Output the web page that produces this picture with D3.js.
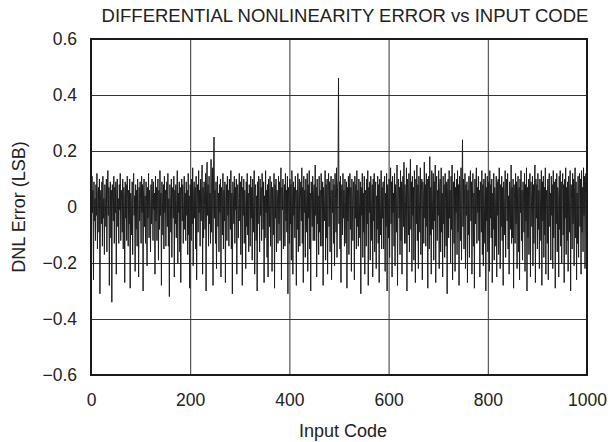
<!DOCTYPE html>
<html>
<head>
<meta charset="utf-8">
<script src="https://cdn.jsdelivr.net/npm/d3@7"></script>
<style>
  body { margin: 0; background: #fff; }
  text { font-family: "Liberation Sans", Arial, Helvetica, sans-serif; fill: #222; }
</style>
</head>
<body>
<div id="chart"></div>
<script>
// DNL error per input code (LSB), codes 0..1000
const dnl = [
  .04,-.08,.11,-.02,.06,-.26,.09,-.05,.03,-.12,
  .08,-.03,.12,-.15,.05,.07,-.09,.10,-.31,.02,
  .06,-.06,.09,-.14,.11,-.04,.03,-.17,.08,.01,
  -.07,.10,-.16,.05,.13,-.03,.07,-.28,.04,.09,
  -.11,.06,-.34,.08,.02,-.05,.11,-.13,.07,-.02,
  .09,-.24,.05,.10,-.07,.03,-.13,.08,-.01,.12,
  -.12,.06,.02,-.09,.10,-.15,.07,.04,-.27,.09,
  -.04,.08,-.12,.11,.03,-.14,.06,-.06,.10,-.29,
  .05,.02,-.10,.09,-.17,.07,.12,-.03,.04,-.23,
  .08,-.08,.06,-.14,.10,.01,-.25,.07,-.05,.09,
  .03,-.13,.11,-.02,.08,-.30,.05,.10,-.07,.04,
  -.13,.09,.02,-.21,.07,-.04,.12,-.11,.06,.01,
  -.16,.08,-.06,.10,.03,-.12,.09,-.01,.05,-.24,
  .11,-.05,.07,-.12,.04,.10,-.19,.06,-.08,.13,
  -.03,.05,-.28,.09,.02,-.10,.08,-.15,.11,-.02,
  .06,-.14,.04,.09,-.07,.12,-.14,.03,-.32,.08,
  .01,-.09,.10,-.18,.05,.07,-.04,.11,-.25,.06,
  -.06,.08,-.11,.03,.13,-.20,.05,-.02,.09,-.16,
  .07,-.27,.04,.10,-.05,.08,-.13,.02,.11,-.08,
  .05,-.12,.09,-.03,.06,-.17,.12,-.10,.04,-.29,
  .08,.02,-.12,.10,-.06,.14,-.21,.05,.09,-.04,
  .07,-.15,.11,-.26,.03,.08,-.09,.13,-.02,.06,
  -.14,.10,-.05,.04,.15,-.24,.07,-.11,.09,.01,
  -.08,.12,-.30,.06,.16,-.03,.08,-.14,.11,-.06,
  .05,-.13,.17,-.09,.07,.14,-.28,.10,.25,-.04,
  .06,-.13,.09,-.22,.03,.11,-.07,.05,-.16,.08,
  -.02,.10,-.25,.07,.04,-.10,.12,-.15,.06,-.05,
  .09,-.27,.03,.08,-.12,.11,-.03,.06,-.14,.10,
  .02,-.08,.13,-.15,.05,-.31,.09,.04,-.06,.11,
  -.13,.07,-.01,.10,-.24,.06,.08,-.11,.03,.12,
  -.05,.09,-.17,.04,.11,-.28,.07,-.03,.10,-.13,
  .06,.01,-.22,.09,-.07,.12,-.10,.05,-.16,.08,
  .03,-.14,.11,-.04,.07,-.19,.10,.02,-.09,.13,
  -.24,.06,.08,-.12,.04,-.30,.09,-.06,.11,.01,
  -.16,.10,-.03,.07,-.12,.12,.05,-.08,.09,-.27,
  .04,-.11,.13,-.02,.06,-.18,.08,-.25,.10,.03,
  -.07,.11,-.14,.05,.09,-.23,.07,.02,-.10,.12,
  -.29,.08,-.04,.10,-.16,.06,.03,-.13,.11,-.06,
  .09,-.12,.05,.14,-.26,.07,-.01,.10,-.15,.04,
  .08,-.14,.12,-.05,.06,-.09,.11,-.31,.07,.02,
  -.13,.10,-.06,.08,-.19,.13,.04,-.24,.09,-.03,
  .07,-.11,.11,.01,-.28,.06,-.08,.12,-.16,.05,
  .10,-.14,.03,.09,-.05,.14,-.13,.07,-.27,.11,
  -.02,.06,-.18,.10,.04,-.09,.12,-.23,.08,-.04,
  .13,-.15,.05,-.30,.09,.02,-.07,.11,-.12,.06,
  .08,-.12,.15,-.03,.07,-.25,.10,-.06,.04,-.17,
  .11,-.09,.06,-.14,.12,.03,-.14,.09,-.28,.07,
  .01,-.05,.13,-.19,.08,-.11,.10,-.24,.05,.12,
  -.07,.09,-.16,.04,.11,-.26,.06,-.02,.10,-.13,
  .08,-.21,.12,.03,-.09,.14,-.18,.07,.10,.46,
  -.06,.09,-.15,.11,-.27,.05,.08,-.10,.12,-.04,
  .06,-.14,.10,.02,-.13,.09,-.29,.07,-.05,.11,
  -.17,.04,.12,-.08,.07,-.23,.10,.01,-.12,.09,
  .05,-.26,.11,-.04,.08,-.15,.13,-.07,.06,-.14,
  .10,.02,-.11,.09,-.31,.07,-.03,.12,-.18,.05,
  -.09,.11,-.24,.06,.04,-.14,.10,-.06,.13,-.28,
  .07,-.02,.09,-.19,.11,.03,-.12,.08,-.25,.10,
  -.05,.12,-.16,.06,.09,-.22,.04,-.08,.11,-.13,
  .08,-.27,.10,.01,-.10,.13,-.15,.07,-.04,.09,
  -.15,.06,.11,-.23,.05,-.07,.12,-.30,.08,.03,
  -.11,.10,-.18,.07,.14,-.06,.09,-.25,.11,-.02,
  .05,-.14,.12,-.21,.08,.03,-.09,.15,-.28,.06,
  .10,-.04,.07,-.17,.13,-.12,.09,-.24,.04,.11,
  -.07,.16,-.13,.08,.02,-.13,.14,-.30,.10,.05,
  -.10,.12,-.16,.06,.17,-.08,.09,-.23,.11,-.03,
  .07,-.19,.13,.04,-.27,.10,-.06,.15,-.12,.08,
  -.22,.11,.02,-.09,.14,-.17,.06,.10,-.26,.09,
  .05,-.13,.16,-.04,.08,-.14,.12,-.07,.10,-.29,
  .06,.11,-.15,.18,-.10,.07,-.24,.13,.03,-.08,
  .12,-.19,.09,-.05,.15,-.27,.08,.11,-.12,.06,
  -.03,.13,-.22,.07,.10,-.16,.14,-.09,.05,-.25,
  .11,-.06,.08,-.18,.12,.02,-.14,.09,-.31,.07,
  .10,-.11,.13,-.04,.06,-.20,.11,-.08,.15,-.26,
  .04,.09,-.13,.12,-.23,.07,-.02,.10,-.17,.13,
  -.09,.08,-.28,.11,.05,-.12,.14,-.19,.06,.24,
  -.07,.10,-.15,.04,.12,-.22,.08,-.03,.09,-.27,
  .06,-.10,.11,-.18,.07,.13,-.05,.09,-.24,.03,
  .12,-.14,.05,-.29,.10,-.06,.08,.14,-.13,.07,
  -.02,.11,-.12,.06,-.25,.09,.04,-.09,.13,-.17,
  .08,-.21,.10,.01,-.13,.12,-.30,.07,-.05,.11,
  -.16,.06,.09,-.23,.13,-.04,.08,-.11,.10,-.27,
  .05,-.08,.12,-.19,.07,.03,-.14,.11,-.25,.09,
  -.03,.10,-.17,.14,.06,-.22,.08,-.07,.11,-.12,
  .07,-.28,.09,.02,-.10,.13,-.18,.05,.10,-.05,
  .12,-.15,.04,-.24,.09,.06,-.08,.15,-.13,.07,
  -.11,.10,-.29,.08,.03,-.13,.12,-.06,.09,-.22,
  .05,.11,-.16,.07,-.26,.10,-.02,.13,-.12,.06,
  -.19,.09,.04,-.09,.12,-.23,.08,-.05,.14,-.30,
  .07,-.11,.10,-.17,.06,.12,-.25,.09,.02,-.07,
  .11,-.21,.08,-.13,.05,.15,-.27,.10,-.04,.08,
  -.15,.12,-.08,.06,-.22,.10,.03,-.12,.13,-.28,
  .09,-.05,.11,-.18,.07,-.10,.14,-.24,.06,.02,
  -.13,.10,-.26,.08,.12,-.07,.05,-.19,.11,-.03,
  .08,-.22,.13,-.11,.06,.09,-.29,.10,-.06,.12,
  -.16,.07,.04,-.25,.11,-.08,.13,-.14,.09,-.20,
  .06,.12,-.10,.08,-.27,.10,-.04,.14,-.17,.07,
  -.12,.09,-.23,.11,.05,-.09,.13,-.30,.08,.03,
  -.15,.12,-.06,.10,-.21,.07,.14,-.11,.09,-.26,
  .05,-.13,.11,-.18,.08,.12,-.07,.10,-.24,.13,
  -.09,.07,-.16,.14,-.03,.11,-.22,.09,.12,-.14,
  .06
];
const xTicks = [0, 200, 400, 600, 800, 1000];
const yTicks = [-0.6, -0.4, -0.2, 0, 0.2, 0.4, 0.6];

const W = 613, H = 442;
const mg = { left: 91, right: 26, top: 39, bottom: 67 };
const w = W - mg.left - mg.right;
const h = H - mg.top - mg.bottom;

const svg = d3.select('#chart').append('svg')
  .attr('width', W)
  .attr('height', H);

const g = svg.append('g').attr('transform', `translate(${mg.left},${mg.top})`);

const x = d3.scaleLinear().domain([0, 1000]).range([0, w]);
const y = d3.scaleLinear().domain([-0.6, 0.6]).range([h, 0]);

// grid lines
g.append('g')
  .attr('transform', `translate(0,${h})`)
  .call(d3.axisBottom(x).tickValues(xTicks).tickSize(-h).tickFormat(''))
  .call(a => a.select('.domain').remove())
  .selectAll('line').attr('stroke', '#333').attr('stroke-width', 1);

g.append('g')
  .call(d3.axisLeft(y).tickValues(yTicks).tickSize(-w).tickFormat(''))
  .call(a => a.select('.domain').remove())
  .selectAll('line').attr('stroke', '#333').attr('stroke-width', 1);

// the trace
const line = d3.line()
  .x((d, i) => x(i))
  .y(d => y(d));

g.append('path')
  .datum(dnl)
  .attr('fill', 'none')
  .attr('stroke', '#1c1c1c')
  .attr('stroke-width', 1)
  .attr('d', line);

// frame
g.append('rect')
  .attr('width', w)
  .attr('height', h)
  .attr('fill', 'none')
  .attr('stroke', '#1a1a1a')
  .attr('stroke-width', 2);

// tick labels
const fmt = d => d === 0 ? '0' : d3.format('.1f')(d);

const xa = g.append('g')
  .attr('transform', `translate(0,${h})`)
  .call(d3.axisBottom(x).tickValues(xTicks).tickSize(0).tickPadding(19).tickFormat(d3.format('d')));
xa.select('.domain').remove();
xa.selectAll('text').style('font-size', '17.5px').attr('fill', '#222');

const ya = g.append('g')
  .call(d3.axisLeft(y).tickValues(yTicks).tickSize(0).tickPadding(14).tickFormat(fmt));
ya.select('.domain').remove();
ya.selectAll('text').style('font-size', '17.5px').attr('fill', '#222');

// titles
svg.append('text')
  .attr('x', 345)
  .attr('y', 21.5)
  .attr('text-anchor', 'middle')
  .style('font-size', '18.5px')
  .text('DIFFERENTIAL NONLINEARITY ERROR vs INPUT CODE');

svg.append('text')
  .attr('x', mg.left + w / 2 + 4)
  .attr('y', 437)
  .attr('text-anchor', 'middle')
  .style('font-size', '18px')
  .text('Input Code');

svg.append('text')
  .attr('transform', `translate(25,${mg.top + h / 2}) rotate(-90)`)
  .attr('text-anchor', 'middle')
  .style('font-size', '18px')
  .text('DNL Error (LSB)');
</script>
</body>
</html>
